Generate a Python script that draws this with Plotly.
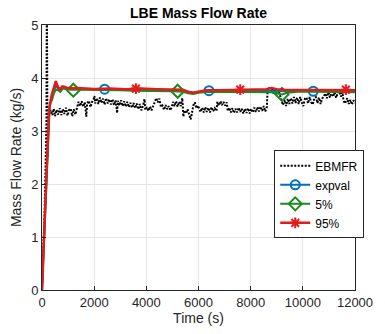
import plotly.graph_objects as go

# ---------------- data ----------------
ebmfr_t = [0, 50, 100, 140, 170, 185, 200, 215, 240, 270, 330, 400, 450, 500, 560, 620, 680, 740, 800,
           860, 920, 980, 1040, 1100, 1160, 1220, 1280, 1340, 1400, 1460, 1520, 1580, 1640, 1700, 1730,
           1800, 1860, 1920, 1980, 2010, 2040, 2100, 2160, 2220, 2280, 2340, 2400, 2460, 2520, 2580,
           2640, 2700, 2760, 2820, 2880, 2910, 2970, 3030, 3090, 3150, 3210, 3270, 3330, 3390, 3450,
           3510, 3570, 3630, 3690, 3750, 3810, 3870, 3930, 3960, 4020, 4080, 4140, 4200, 4260, 4320,
           4380, 4440, 4500, 4560, 4620, 4680, 4740, 4800, 4860, 4920, 4980, 5020, 5080, 5140, 5200,
           5260, 5320, 5380, 5420, 5460, 5520, 5580, 5640, 5700, 5740, 5800, 5860, 5920, 5980, 6040,
           6080, 6140, 6200, 6260, 6320, 6380, 6440, 6500, 6560, 6620, 6690, 6720, 6780, 6840, 6900,
           6960, 7020, 7080, 7120, 7180, 7240, 7300, 7360, 7420, 7480, 7540, 7600, 7660, 7720, 7780,
           7840, 7900, 7960, 8020, 8080, 8140, 8200, 8260, 8320, 8380, 8440, 8500, 8560, 8620, 8650,
           8700, 8760, 8820, 8880, 8940, 9000, 9060, 9120, 9180, 9240, 9300, 9360, 9420, 9480, 9540,
           9600, 9660, 9720, 9780, 9840, 9900, 9960, 10020, 10080, 10140, 10200, 10260, 10320, 10380,
           10440, 10500, 10560, 10620, 10680, 10740, 10800, 10860, 10920, 10980, 11040, 11100, 11160,
           11220, 11280, 11340, 11400, 11460, 11520, 11560, 11620, 11700, 11760, 11820, 11880, 11940,
           12000]
ebmfr_v = [0.0, 0.6, 1.5, 2.4, 3.2, 5.6, 3.4, 2.5, 3.0, 3.3, 3.40, 3.30, 3.42, 3.28, 3.40, 3.31, 3.43, 3.30, 3.41,
           3.32, 3.44, 3.29, 3.40, 3.42, 3.28, 3.41, 3.31, 3.42, 3.55, 3.47, 3.56, 3.46, 3.54, 3.27, 3.52,
           3.57, 3.45, 3.55, 3.60, 3.66, 3.52, 3.62, 3.51, 3.63, 3.53, 3.61, 3.50, 3.62, 3.52, 3.60,
           3.50, 3.60, 3.49, 3.58, 3.34, 3.57, 3.48, 3.58, 3.47, 3.56, 3.46, 3.55, 3.45, 3.53, 3.44,
           3.53, 3.43, 3.52, 3.41, 3.51, 3.39, 3.47, 3.60, 3.40, 3.45, 3.38, 3.46, 3.39, 3.47, 3.52,
           3.62, 3.54, 3.61, 3.45, 3.48, 3.40, 3.49, 3.41, 3.47, 3.39, 3.46, 3.55, 3.47, 3.56, 3.46,
           3.55, 3.47, 3.62, 3.27, 3.39, 3.33, 3.41, 3.32, 3.22, 3.31, 3.48, 3.54, 3.43, 3.48, 3.42,
           3.36, 3.44, 3.35, 3.45, 3.36, 3.44, 3.35, 3.45, 3.37, 3.43, 3.38, 3.55, 3.48, 3.56, 3.49,
           3.55, 3.48, 3.54, 3.38, 3.44, 3.35, 3.43, 3.34, 3.42, 3.35, 3.44, 3.36, 3.42, 3.33, 3.42,
           3.34, 3.43, 3.33, 3.42, 3.35, 3.44, 3.36, 3.45, 3.37, 3.46, 3.38, 3.47, 3.37, 3.45, 3.78,
           3.82, 3.72, 3.80, 3.71, 3.79, 3.70, 3.78, 3.66, 3.58, 3.49, 3.59, 3.47, 3.61, 3.51, 3.62,
           3.52, 3.64, 3.53, 3.63, 3.51, 3.64, 3.54, 3.47, 3.61, 3.63, 3.52, 3.64, 3.54, 3.50,
           3.62, 3.64, 3.53, 3.63, 3.51, 3.61, 3.65, 3.71, 3.62, 3.73, 3.63, 3.74, 3.65,
           3.73, 3.63, 3.72, 3.75, 3.65, 3.73, 3.57, 3.52, 3.62, 3.51, 3.59, 3.50, 3.58,
           3.53]

expval_t = [0, 270, 370, 450, 530, 620, 800, 1500, 2400, 4000, 5400, 5600, 5800, 6000, 6400, 8000,
            9000, 10400, 12000]
expval_v = [0.0, 3.4, 3.64, 3.76, 3.85, 3.80, 3.82, 3.80, 3.79, 3.78, 3.77, 3.74, 3.72, 3.74, 3.76,
            3.76, 3.75, 3.76, 3.75]

p5_t = [0, 270, 300, 380, 450, 530, 620, 700, 800, 900, 1100, 1500, 2000, 2500, 3000, 3500, 4000,
        4500, 5000, 5400, 5600, 5800, 6000, 6400, 7000, 7600, 8200, 8600, 8800, 9000, 9200, 9400,
        9800, 10400, 11000, 11600, 12000]
p5_v = [0.0, 3.4, 3.52, 3.58, 3.70, 3.78, 3.77, 3.74, 3.80, 3.79, 3.78, 3.78, 3.78, 3.77, 3.77,
        3.76, 3.76, 3.75, 3.75, 3.74, 3.71, 3.70, 3.72, 3.74, 3.74, 3.74, 3.74, 3.74, 3.73, 3.71,
        3.69, 3.72, 3.74, 3.74, 3.74, 3.74, 3.73]

p95_t = [0, 270, 370, 450, 530, 620, 680, 780, 880, 1000, 1400, 2000, 2600, 3200, 3800, 4400, 5000,
         5400, 5600, 5800, 6000, 6300, 6800, 7400, 8000, 8600, 8800, 9000, 9300, 9800, 10400, 11000,
         11600, 12000]
p95_v = [0.0, 3.4, 3.68, 3.82, 3.94, 3.82, 3.78, 3.84, 3.83, 3.80, 3.81, 3.79, 3.80, 3.79, 3.80,
         3.79, 3.79, 3.78, 3.74, 3.72, 3.74, 3.77, 3.77, 3.78, 3.78, 3.79, 3.81, 3.79, 3.78, 3.78,
         3.77, 3.78, 3.78, 3.77]

# marker positions (every ~4000 s, staggered per series)
expval_mk_t = [2400, 6400, 10400]
expval_mk_v = [3.79, 3.76, 3.75]
p5_mk_t = [1200, 5200, 9200]
p5_mk_v = [3.77, 3.75, 3.69]
p95_mk_t = [3600, 7600, 11650]
p95_mk_v = [3.80, 3.78, 3.78]

x_ticks = [0, 2000, 4000, 6000, 8000, 10000, 12000]
y_ticks = [0, 1, 2, 3, 4, 5]

# ---------------- styles ----------------
C_BLACK = "#000000"
C_BLUE = "#0072BD"
C_GREEN = "#1c8a1c"
C_RED = "#e41a1c"
FONT = "Liberation Sans, Arial, sans-serif"

fig = go.Figure()

# EBMFR
fig.add_trace(go.Scatter(x=ebmfr_t, y=ebmfr_v, mode="lines", name="EBMFR",
                         line=dict(color=C_BLACK, width=2, dash="2px,1.5px")))

series = [
    ("expval", expval_t, expval_v, expval_mk_t, expval_mk_v, C_BLUE, "circle-open", 2, 9),
    ("5%", p5_t, p5_v, p5_mk_t, p5_mk_v, C_GREEN, "diamond-open", 2, 10),
    ("95%", p95_t, p95_v, p95_mk_t, p95_mk_v, C_RED, "asterisk-open", 2.5, 9),
]
for name, t, v, mt, mv, col, sym, lw, ms in series:
    fig.add_trace(go.Scatter(x=t, y=v, mode="lines", name=name, legendgroup=name,
                             showlegend=False, line=dict(color=col, width=lw)))
    fig.add_trace(go.Scatter(x=mt, y=mv, mode="markers", name=name, legendgroup=name,
                             showlegend=False,
                             marker=dict(symbol=sym, size=ms, color=col,
                                         line=dict(color=col, width=2))))
    # legend entry
    fig.add_trace(go.Scatter(x=[None], y=[None], mode="lines+markers", name=name,
                             legendgroup=name, showlegend=True,
                             line=dict(color=col, width=lw),
                             marker=dict(symbol=sym, size=ms, color=col,
                                         line=dict(color=col, width=2))))

axis_common = dict(showline=True, mirror=True, linecolor="#262626", linewidth=1,
                   ticks="inside", ticklen=4, tickcolor="#262626",
                   showgrid=True, gridcolor="#e6e6e6", gridwidth=1, zeroline=False,
                   tickfont=dict(family=FONT, size=13, color="#262626"))

fig.update_layout(
    width=385, height=334,
    margin=dict(l=42, r=20, t=25, b=44),
    paper_bgcolor="white", plot_bgcolor="white",
    font=dict(family=FONT, size=13, color="#262626"),
    title=dict(text="<b>LBE Mass Flow Rate</b>", x=0.5, xref="paper", xanchor="center",
               y=1 - 13 / 334, yref="container", yanchor="middle",
               font=dict(family=FONT, size=14, color="#000000")),
    xaxis=dict(range=[0, 12000], tickvals=x_ticks, ticktext=[str(v) for v in x_ticks],
               title=dict(text="Time (s)", font=dict(family=FONT, size=14, color="#262626"),
                          standoff=2),
               **axis_common),
    yaxis=dict(range=[0, 5], tickvals=y_ticks, ticktext=[str(v) for v in y_ticks],
               title=dict(text="Mass Flow Rate (kg/s)",
                          font=dict(family=FONT, size=14, color="#262626"), standoff=6),
               **axis_common),
    legend=dict(x=0.742, y=0.527, xanchor="left", yanchor="top",
                bgcolor="white", bordercolor="#262626", borderwidth=1,
                font=dict(family=FONT, size=12, color="#000000"),
                tracegroupgap=0, itemwidth=30),
    showlegend=True,
)

fig.write_html("out.html")
